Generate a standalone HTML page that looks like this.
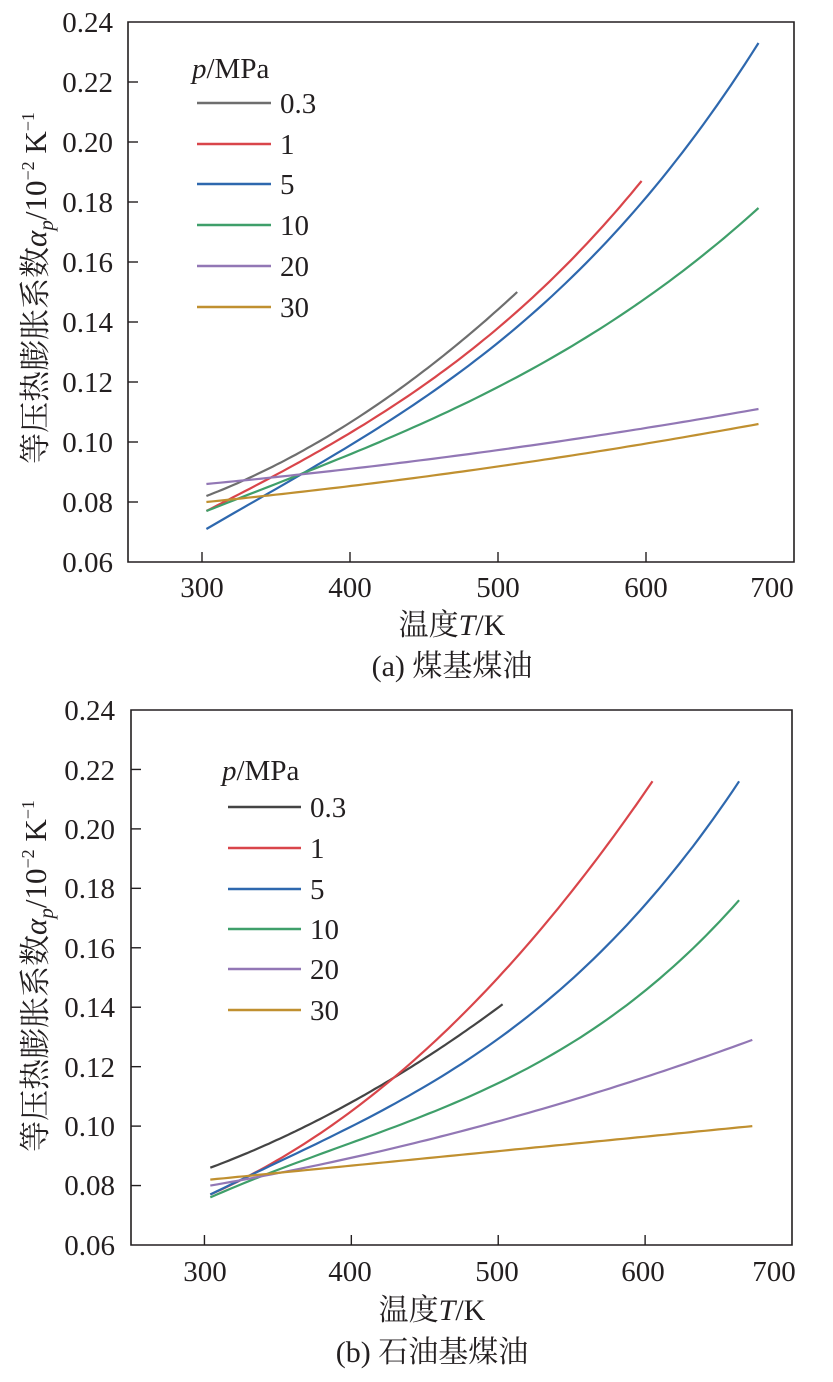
<!DOCTYPE html>
<html><head><meta charset="utf-8"><style>
body{margin:0;background:#fff;}
svg{display:block;font-family:"Liberation Serif","Noto Serif CJK SC",serif;}
</style></head><body>
<svg id="s" width="833" height="1382" viewBox="0 0 833 1382" xmlns="http://www.w3.org/2000/svg">
<g id="g" fill="none" stroke-width="2.2"></g>
<g font-size="29" fill="#231f20">
<text x="113" y="32" text-anchor="end">0.24</text>
<text x="113" y="92" text-anchor="end">0.22</text>
<text x="113" y="152" text-anchor="end">0.20</text>
<text x="113" y="212" text-anchor="end">0.18</text>
<text x="113" y="272" text-anchor="end">0.16</text>
<text x="113" y="332" text-anchor="end">0.14</text>
<text x="113" y="392" text-anchor="end">0.12</text>
<text x="113" y="452" text-anchor="end">0.10</text>
<text x="113" y="512" text-anchor="end">0.08</text>
<text x="113" y="572" text-anchor="end">0.06</text>
<text x="202" y="597" text-anchor="middle">300</text>
<text x="350" y="597" text-anchor="middle">400</text>
<text x="498" y="597" text-anchor="middle">500</text>
<text x="646" y="597" text-anchor="middle">600</text>
<text x="772" y="597" text-anchor="middle">700</text>
<text x="452" y="635" text-anchor="middle" font-size="30">温度<tspan font-style="italic">T</tspan>/K</text>
<text x="452" y="676" text-anchor="middle" font-size="30">(a) 煤基煤油</text>
<text x="192" y="78"><tspan font-style="italic">p</tspan>/MPa</text>
<text x="280" y="113">0.3</text><text x="280" y="154">1</text><text x="280" y="194">5</text>
<text x="280" y="235">10</text><text x="280" y="276">20</text><text x="280" y="317">30</text>
<text transform="translate(46,288) rotate(-90)" text-anchor="middle" font-size="31">等压热膨胀系数<tspan font-style="italic">α</tspan><tspan font-size="21" font-style="italic" dy="7">p</tspan><tspan dy="-7">/10</tspan><tspan font-size="18" dy="-12">−2</tspan><tspan dy="12"> K</tspan><tspan font-size="18" dy="-12">−1</tspan></text>

<text x="115" y="720" text-anchor="end">0.24</text>
<text x="115" y="780" text-anchor="end">0.22</text>
<text x="115" y="839" text-anchor="end">0.20</text>
<text x="115" y="898" text-anchor="end">0.18</text>
<text x="115" y="958" text-anchor="end">0.16</text>
<text x="115" y="1017" text-anchor="end">0.14</text>
<text x="115" y="1077" text-anchor="end">0.12</text>
<text x="115" y="1136" text-anchor="end">0.10</text>
<text x="115" y="1195" text-anchor="end">0.08</text>
<text x="115" y="1255" text-anchor="end">0.06</text>
<text x="205" y="1281" text-anchor="middle">300</text>
<text x="350" y="1281" text-anchor="middle">400</text>
<text x="497" y="1281" text-anchor="middle">500</text>
<text x="643" y="1281" text-anchor="middle">600</text>
<text x="774" y="1281" text-anchor="middle">700</text>
<text x="432" y="1320" text-anchor="middle" font-size="30">温度<tspan font-style="italic">T</tspan>/K</text>
<text x="432" y="1362" text-anchor="middle" font-size="30">(b) 石油基煤油</text>
<text x="222" y="780"><tspan font-style="italic">p</tspan>/MPa</text>
<text x="310" y="817">0.3</text><text x="310" y="858">1</text><text x="310" y="899">5</text>
<text x="310" y="939">10</text><text x="310" y="979">20</text><text x="310" y="1020">30</text>
<text transform="translate(46,976) rotate(-90)" text-anchor="middle" font-size="31">等压热膨胀系数<tspan font-style="italic">α</tspan><tspan font-size="21" font-style="italic" dy="7">p</tspan><tspan dy="-7">/10</tspan><tspan font-size="18" dy="-12">−2</tspan><tspan dy="12"> K</tspan><tspan font-size="18" dy="-12">−1</tspan></text>
</g>
</svg>
<script>
const g=document.getElementById('g');
function add(tag,a){const e=document.createElementNS('http://www.w3.org/2000/svg',tag);for(const k in a)e.setAttribute(k,a[k]);g.appendChild(e);return e;}
const C=['#6e6e6e','#d9454a','#2e68ae','#3f9f6a','#9277b5','#c09030'];
function lag(pts,t){let s=0;for(let i=0;i<pts.length;i++){let l=pts[i][1];for(let j=0;j<pts.length;j++)if(j!=i)l*=(t-pts[j][0])/(pts[i][0]-pts[j][0]);s+=l;}return s;}
function chart(L,R,T,B,xmin,xmax,ymin,ymax,series,leg,c0){
 add('path',{d:`M${L} ${T}H${R}V${B}H${L}Z`,stroke:'#231f20','stroke-width':1.6});
 const X=t=>L+(t-xmin)/(xmax-xmin)*(R-L), Y=v=>B-(v-ymin)/(ymax-ymin)*(B-T);
 for(let t=300;t<=600;t+=100)add('path',{d:`M${X(t)} ${B}v-10`,stroke:'#231f20','stroke-width':1.4});
 for(let v=0.08;v<0.235;v+=0.02)add('path',{d:`M${L} ${Y(v)}h10`,stroke:'#231f20','stroke-width':1.4});
 series.forEach((pts,i)=>{
  const t0=pts[0][0],t1=pts[pts.length-1][0];let d='';
  for(let k=0;k<=80;k++){const t=t0+(t1-t0)*k/80;d+=(k?'L':'M')+X(t).toFixed(1)+' '+Y(lag(pts,t)).toFixed(1);}
  add('path',{d,stroke:i==0?c0:C[i]});
  add('path',{d:`M${leg.x1} ${leg.y[i]}H${leg.x2}`,stroke:i==0?c0:C[i],'stroke-width':2.6});
 });
}
chart(128,794,22,562,250,700,0.06,0.24,[
 [[303,0.082],[408,0.109],[513,0.150]],
 [[303,0.077],[400,0.103],[500,0.138],[597,0.187]],
 [[303,0.071],[420,0.105],[550,0.155],[676,0.233]],
 [[303,0.077],[420,0.100],[550,0.132],[676,0.178]],
 [[303,0.086],[488,0.0965],[676,0.111]],
 [[303,0.080],[488,0.091],[676,0.106]]
],{x1:197,x2:271,y:[103,144,184,225,266,307]},'#6e6e6e');
chart(131,792,710,1245,250,700,0.06,0.24,[
 [[304,0.086],[400,0.108],[503,0.141]],
 [[304,0.077],[400,0.105],[500,0.150],[605,0.216]],
 [[304,0.077],[420,0.105],[540,0.145],[664,0.216]],
 [[304,0.076],[420,0.098],[540,0.125],[664,0.176]],
 [[304,0.080],[488,0.100],[673,0.129]],
 [[304,0.082],[488,0.091],[673,0.100]]
],{x1:228,x2:301,y:[807,848,889,929,969,1010]},'#444');
</script>
</body></html>
